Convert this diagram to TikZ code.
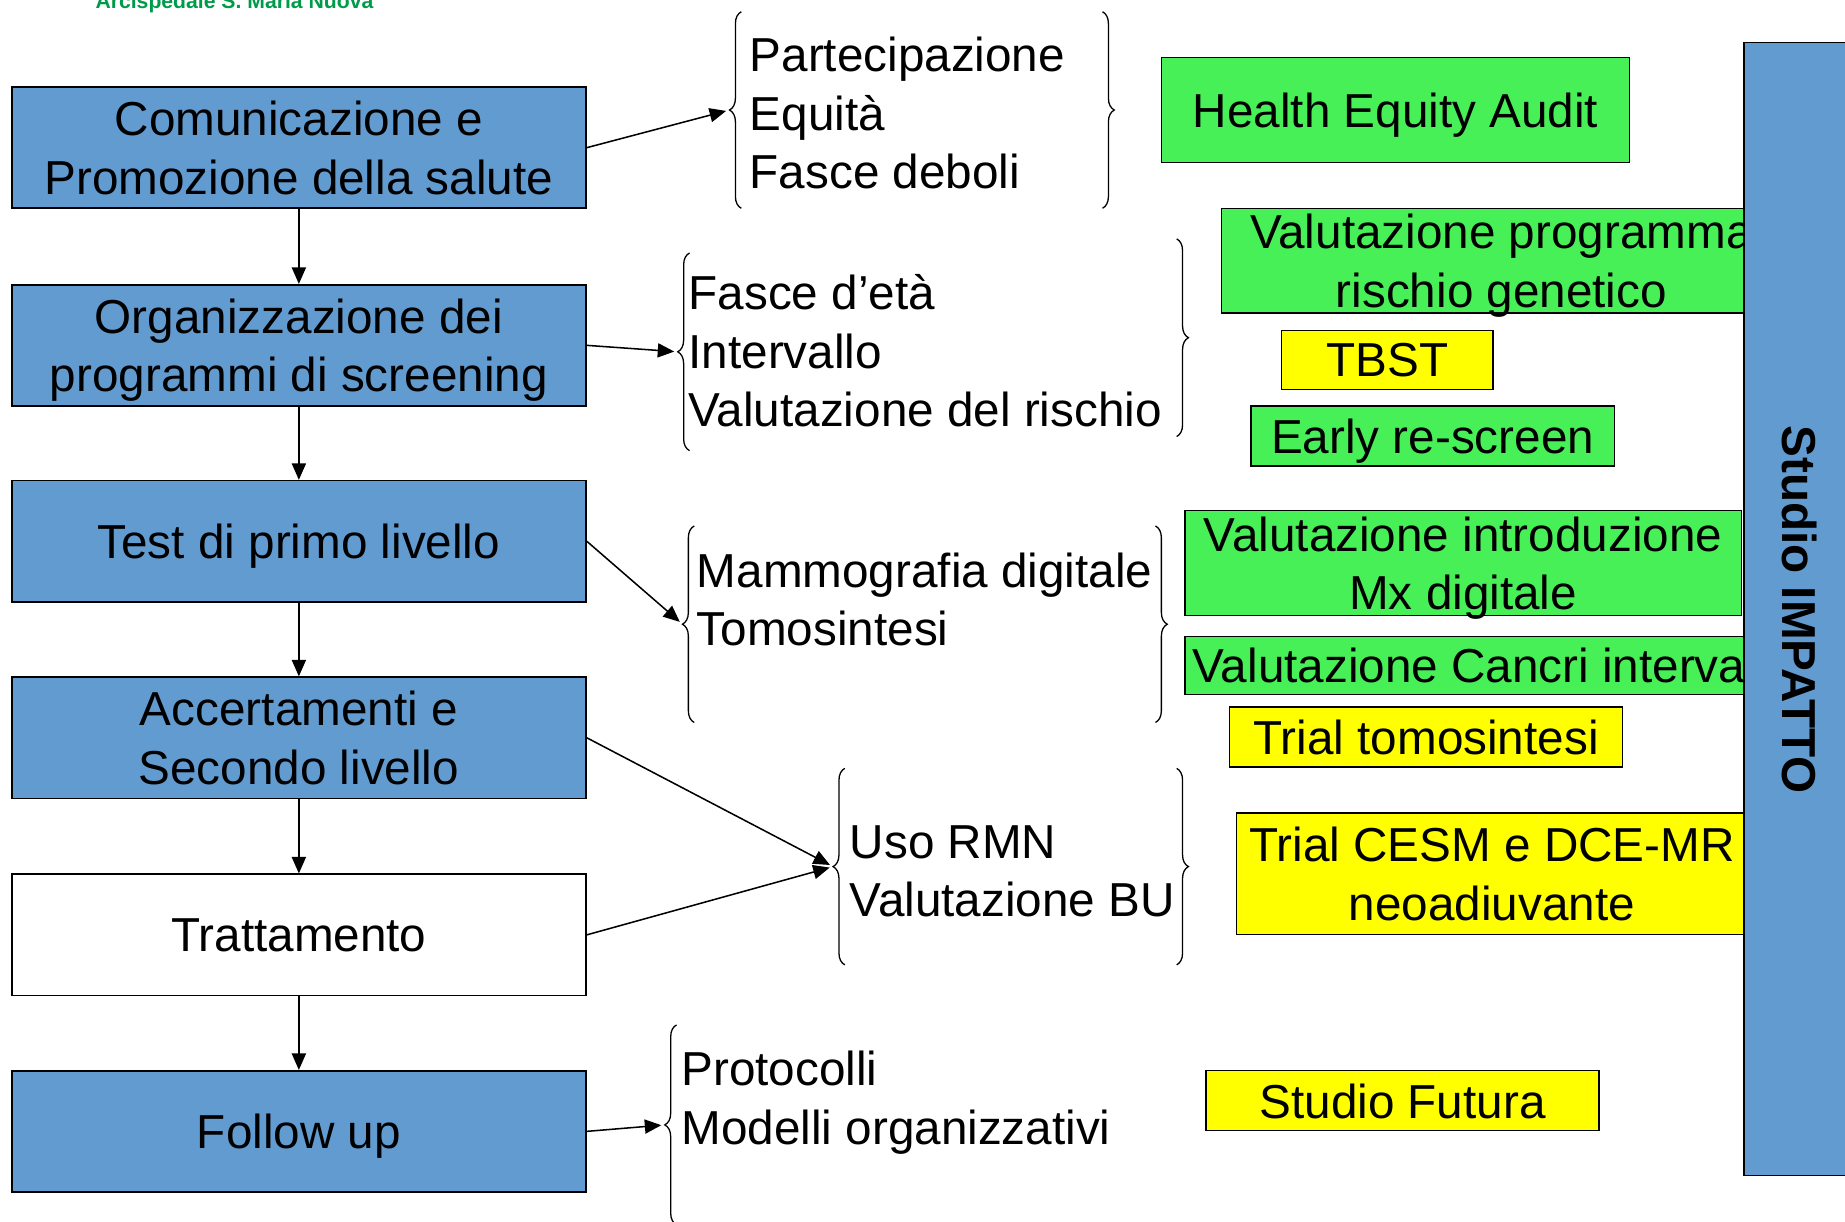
\documentclass[tikz,border=0pt]{standalone}
\usepackage{fontspec}
\setmainfont{Liberation Sans}
\usetikzlibrary{arrows.meta,decorations.pathreplacing}

\definecolor{phaseblue}{RGB}{98,155,208}
\definecolor{studygreen}{RGB}{72,240,88}
\definecolor{trialyellow}{RGB}{255,255,0}
\definecolor{logogreen}{RGB}{0,155,72}

\begin{document}
\begin{tikzpicture}[x=1pt,y=-1pt,
  txt/.style={font=\fontsize{40.5}{49.5}\selectfont, inner sep=0pt, text depth=0pt},
  phase/.style={txt, draw=black, line width=1.4pt, fill=phaseblue,
    minimum width=488pt, minimum height=103pt, align=center},
  plain/.style={phase, fill=white},
  study/.style={txt, draw=black, line width=1.2pt, fill=studygreen, align=center},
  trial/.style={txt, draw=black, line width=1.2pt, fill=trialyellow, align=center},
  items/.style={txt, anchor=west, align=left},
  curly/.style={decorate, decoration={brace, amplitude=10pt}, line width=1.1pt},
  link/.style={line width=1.3pt, -{Triangle[length=14pt,width=12pt]}},
  sidelink/.style={link, shorten >=3pt}
]
\useasboundingbox (0,0) rectangle (1568,1038);
\clip (0,0) rectangle (1568,1038);

% hospital name in the page header
\node[anchor=base west, inner sep=0pt, text=logogreen,
  font=\fontsize{18}{20}\selectfont\bfseries] (hospital) at (81,7.5)
  {Arcispedale S. Maria Nuova};

% screening pathway
\node[phase] (b1) at (254,125.5) {Comunicazione e\\Promozione della salute};
\node[phase] (b2) at (254,293.5) {Organizzazione dei\\programmi di screening};
\node[phase] (b3) at (254,460)   {Test di primo livello};
\node[phase] (b4) at (254,627)   {Accertamenti e\\Secondo livello};
\node[plain] (b5) at (254,794.5) {Trattamento};
\node[phase] (b6) at (254,961.5) {Follow up};

\foreach \a/\b in {b1/b2,b2/b3,b3/b4,b4/b5,b5/b6}
  \draw[link] (\a.south) -- (\b.north);

% topics of each phase
\node[items] (g1) at (637,96)  {Partecipazione\\Equità\\Fasce deboli};
\node[items] (g2) at (585,298) {Fasce d’età\\Intervallo\\Valutazione del rischio};
\node[items] (g3) at (592,509) {Mammografia digitale\\Tomosintesi};
\node[items] (g4) at (722,740) {Uso RMN\\Valutazione BU};
\node[items] (g5) at (579,933) {Protocolli\\Modelli organizzativi};

% braces around the topics
\draw[curly] (630,177) -- (630,10);
\draw[curly] (937,10) -- (937,177);
\draw[curly] (586,383) -- (586,215);
\draw[curly] (1000,203) -- (1000,371);
\draw[curly] (590,614) -- (590,447);
\draw[curly] (982,447) -- (982,614);
\draw[curly] (718,820) -- (718,653);
\draw[curly] (1000,653) -- (1000,820);
\draw[curly] (575,1041) -- (575,871);

\coordinate (t1) at (620,93.5);
\coordinate (t2) at (576,299);
\coordinate (t3) at (580,530.5);
\coordinate (t4) at (708,736.5);
\coordinate (t5) at (565,956);

\draw[sidelink] (b1.east) -- (t1);
\draw[sidelink] (b2.east) -- (t2);
\draw[sidelink] (b3.east) -- (t3);
\draw[sidelink] (b4.east) -- (t4);
\draw[sidelink] (b5.east) -- (t4);
\draw[sidelink] (b6.east) -- (t5);

% studies and trials
\node[study, minimum width=398pt, minimum height=89pt] (hea) at (1186,93.5) {Health Equity Audit};
\node[study, minimum width=476pt, minimum height=89pt] (rg)  at (1276,221.5) {Valutazione programma\\rischio genetico};
\node[trial, minimum width=180pt, minimum height=50pt] (tbst) at (1179,306) {TBST};
\node[study, minimum width=309pt, minimum height=51pt] (early) at (1217.5,370.5) {Early re-screen};
\node[study, minimum width=473pt, minimum height=89pt] (vi) at (1243.5,478.5) {Valutazione introduzione\\Mx digitale};
\node[study, minimum width=510pt, minimum height=49pt] (vc) at (1262,565.5) {Valutazione Cancri intervalli};
\node[trial, minimum width=334pt, minimum height=51pt] (tt) at (1212,626.5) {Trial tomosintesi};
\node[trial, minimum width=434pt, minimum height=103pt] (cesm) at (1268,742.5) {Trial CESM e DCE-MR\\neoadiuvante};
\node[trial, minimum width=334pt, minimum height=51pt] (sf) at (1192,935.5) {Studio Futura};

% overarching study bar
\node[draw=black, line width=1.4pt, fill=phaseblue, inner sep=0pt,
  minimum width=116pt, minimum height=963pt] (bar) at (1540,517.5) {};
\node[txt, rotate=-90, font=\fontsize{40.5}{49.5}\selectfont\bfseries] (barlabel)
  at (1529.5,518) {Studio IMPATTO};
\end{tikzpicture}
\end{document}
